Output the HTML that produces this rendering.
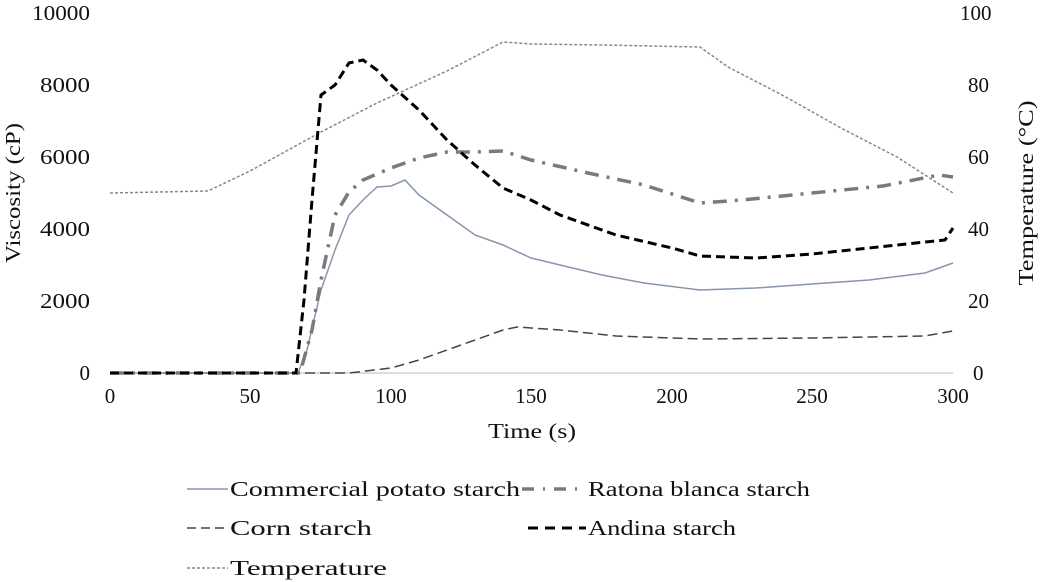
<!DOCTYPE html>
<html><head><style>body{margin:0;background:#fff}svg{display:block}text{font-family:"Liberation Serif",serif;font-size:21px;fill:#111}</style></head><body>
<svg width="1043" height="582" viewBox="0 0 1043 582">
<line x1="110" y1="373" x2="953" y2="373" stroke="#bbb" stroke-width="1"/>
<g text-anchor="end">
<text x="90" y="380">0</text><text x="90" y="308" textLength="50" lengthAdjust="spacingAndGlyphs">2000</text><text x="90" y="236" textLength="50" lengthAdjust="spacingAndGlyphs">4000</text><text x="90" y="164" textLength="50" lengthAdjust="spacingAndGlyphs">6000</text><text x="90" y="92" textLength="50" lengthAdjust="spacingAndGlyphs">8000</text><text x="90" y="20" textLength="58" lengthAdjust="spacingAndGlyphs">10000</text></g>
<g text-anchor="start">
<text x="973" y="380">0</text><text x="968" y="308">20</text><text x="968" y="236">40</text><text x="968" y="164">60</text><text x="968" y="92">80</text><text x="960" y="20">100</text></g>
<g text-anchor="middle">
<text x="110" y="403">0</text><text x="250" y="403">50</text><text x="391" y="403">100</text><text x="531" y="403">150</text><text x="672" y="403">200</text><text x="812" y="403">250</text><text x="953" y="403">300</text>
<text x="532" y="438" textLength="88" lengthAdjust="spacingAndGlyphs">Time (s)</text>
<text transform="translate(20,193) rotate(-90)" textLength="140" lengthAdjust="spacingAndGlyphs">Viscosity (cP)</text>
<text transform="translate(1033,193) rotate(-90)" textLength="185" lengthAdjust="spacingAndGlyphs">Temperature (°C)</text></g>
<polyline fill="none" stroke="#888" stroke-width="1.5" stroke-dasharray="3,2" points="110,193 208,191 250,171 321,132 377,103 447,71 503,42 531,44 602,45 700,47 728,67 784,96 841,128 897,157 953,193"/>
<polyline fill="none" stroke="#444" stroke-width="1.5" stroke-dasharray="10,5" points="110,373 349,373 391,368 419,360 447,350 475,340 503,330 517,327 560,330 616,336 700,339 812,338 925,336 953,331"/>
<polyline fill="none" stroke="#8796ad" stroke-width="1.5" points="110,373 298,373 307,350 321,290 335,250 349,215 363,200 377,187 391,186 405,180 419,195 447,215 475,235 503,245 531,258 560,265 602,275 644,283 700,290 756,288 812,284 869,280 925,273 953,263"/>
<polyline fill="none" stroke="#7a7a7a" stroke-width="3.5" stroke-dasharray="14,8,3,8" points="110,373 300,373 312,330 321,280 335,215 349,192 363,180 391,168 419,158 447,152 475,152 503,151 531,160 588,173 644,185 700,203 742,200 812,193 883,186 939,175 953,177"/>
<polyline fill="none" stroke="#000" stroke-width="3" stroke-dasharray="9,5" points="110,373 296,373 304,300 312,200 321,95 335,85 349,63 363,60 377,70 391,85 419,110 447,140 475,165 503,188 531,200 560,215 616,235 672,248 700,256 756,258 812,254 869,248 925,242 945,240 953,228"/>
<line x1="187" y1="489" x2="228" y2="489" stroke="#8796ad" stroke-width="1.5"/>
<text x="230" y="496" textLength="290" lengthAdjust="spacingAndGlyphs">Commercial potato starch</text>
<line x1="522" y1="489" x2="586" y2="489" stroke="#7a7a7a" stroke-width="3.5" stroke-dasharray="12,9,2,9"/>
<text x="588" y="496" textLength="222" lengthAdjust="spacingAndGlyphs">Ratona blanca starch</text>
<line x1="187" y1="528" x2="228" y2="528" stroke="#444" stroke-width="1.5" stroke-dasharray="9,5"/>
<text x="230" y="535" textLength="142" lengthAdjust="spacingAndGlyphs">Corn starch</text>
<line x1="528" y1="528" x2="586" y2="528" stroke="#000" stroke-width="3" stroke-dasharray="10,7"/>
<text x="588" y="535" textLength="148" lengthAdjust="spacingAndGlyphs">Andina starch</text>
<line x1="187" y1="568" x2="228" y2="568" stroke="#888" stroke-width="1.5" stroke-dasharray="3,2"/>
<text x="230" y="575" textLength="157" lengthAdjust="spacingAndGlyphs">Temperature</text>
</svg>
</body></html>
